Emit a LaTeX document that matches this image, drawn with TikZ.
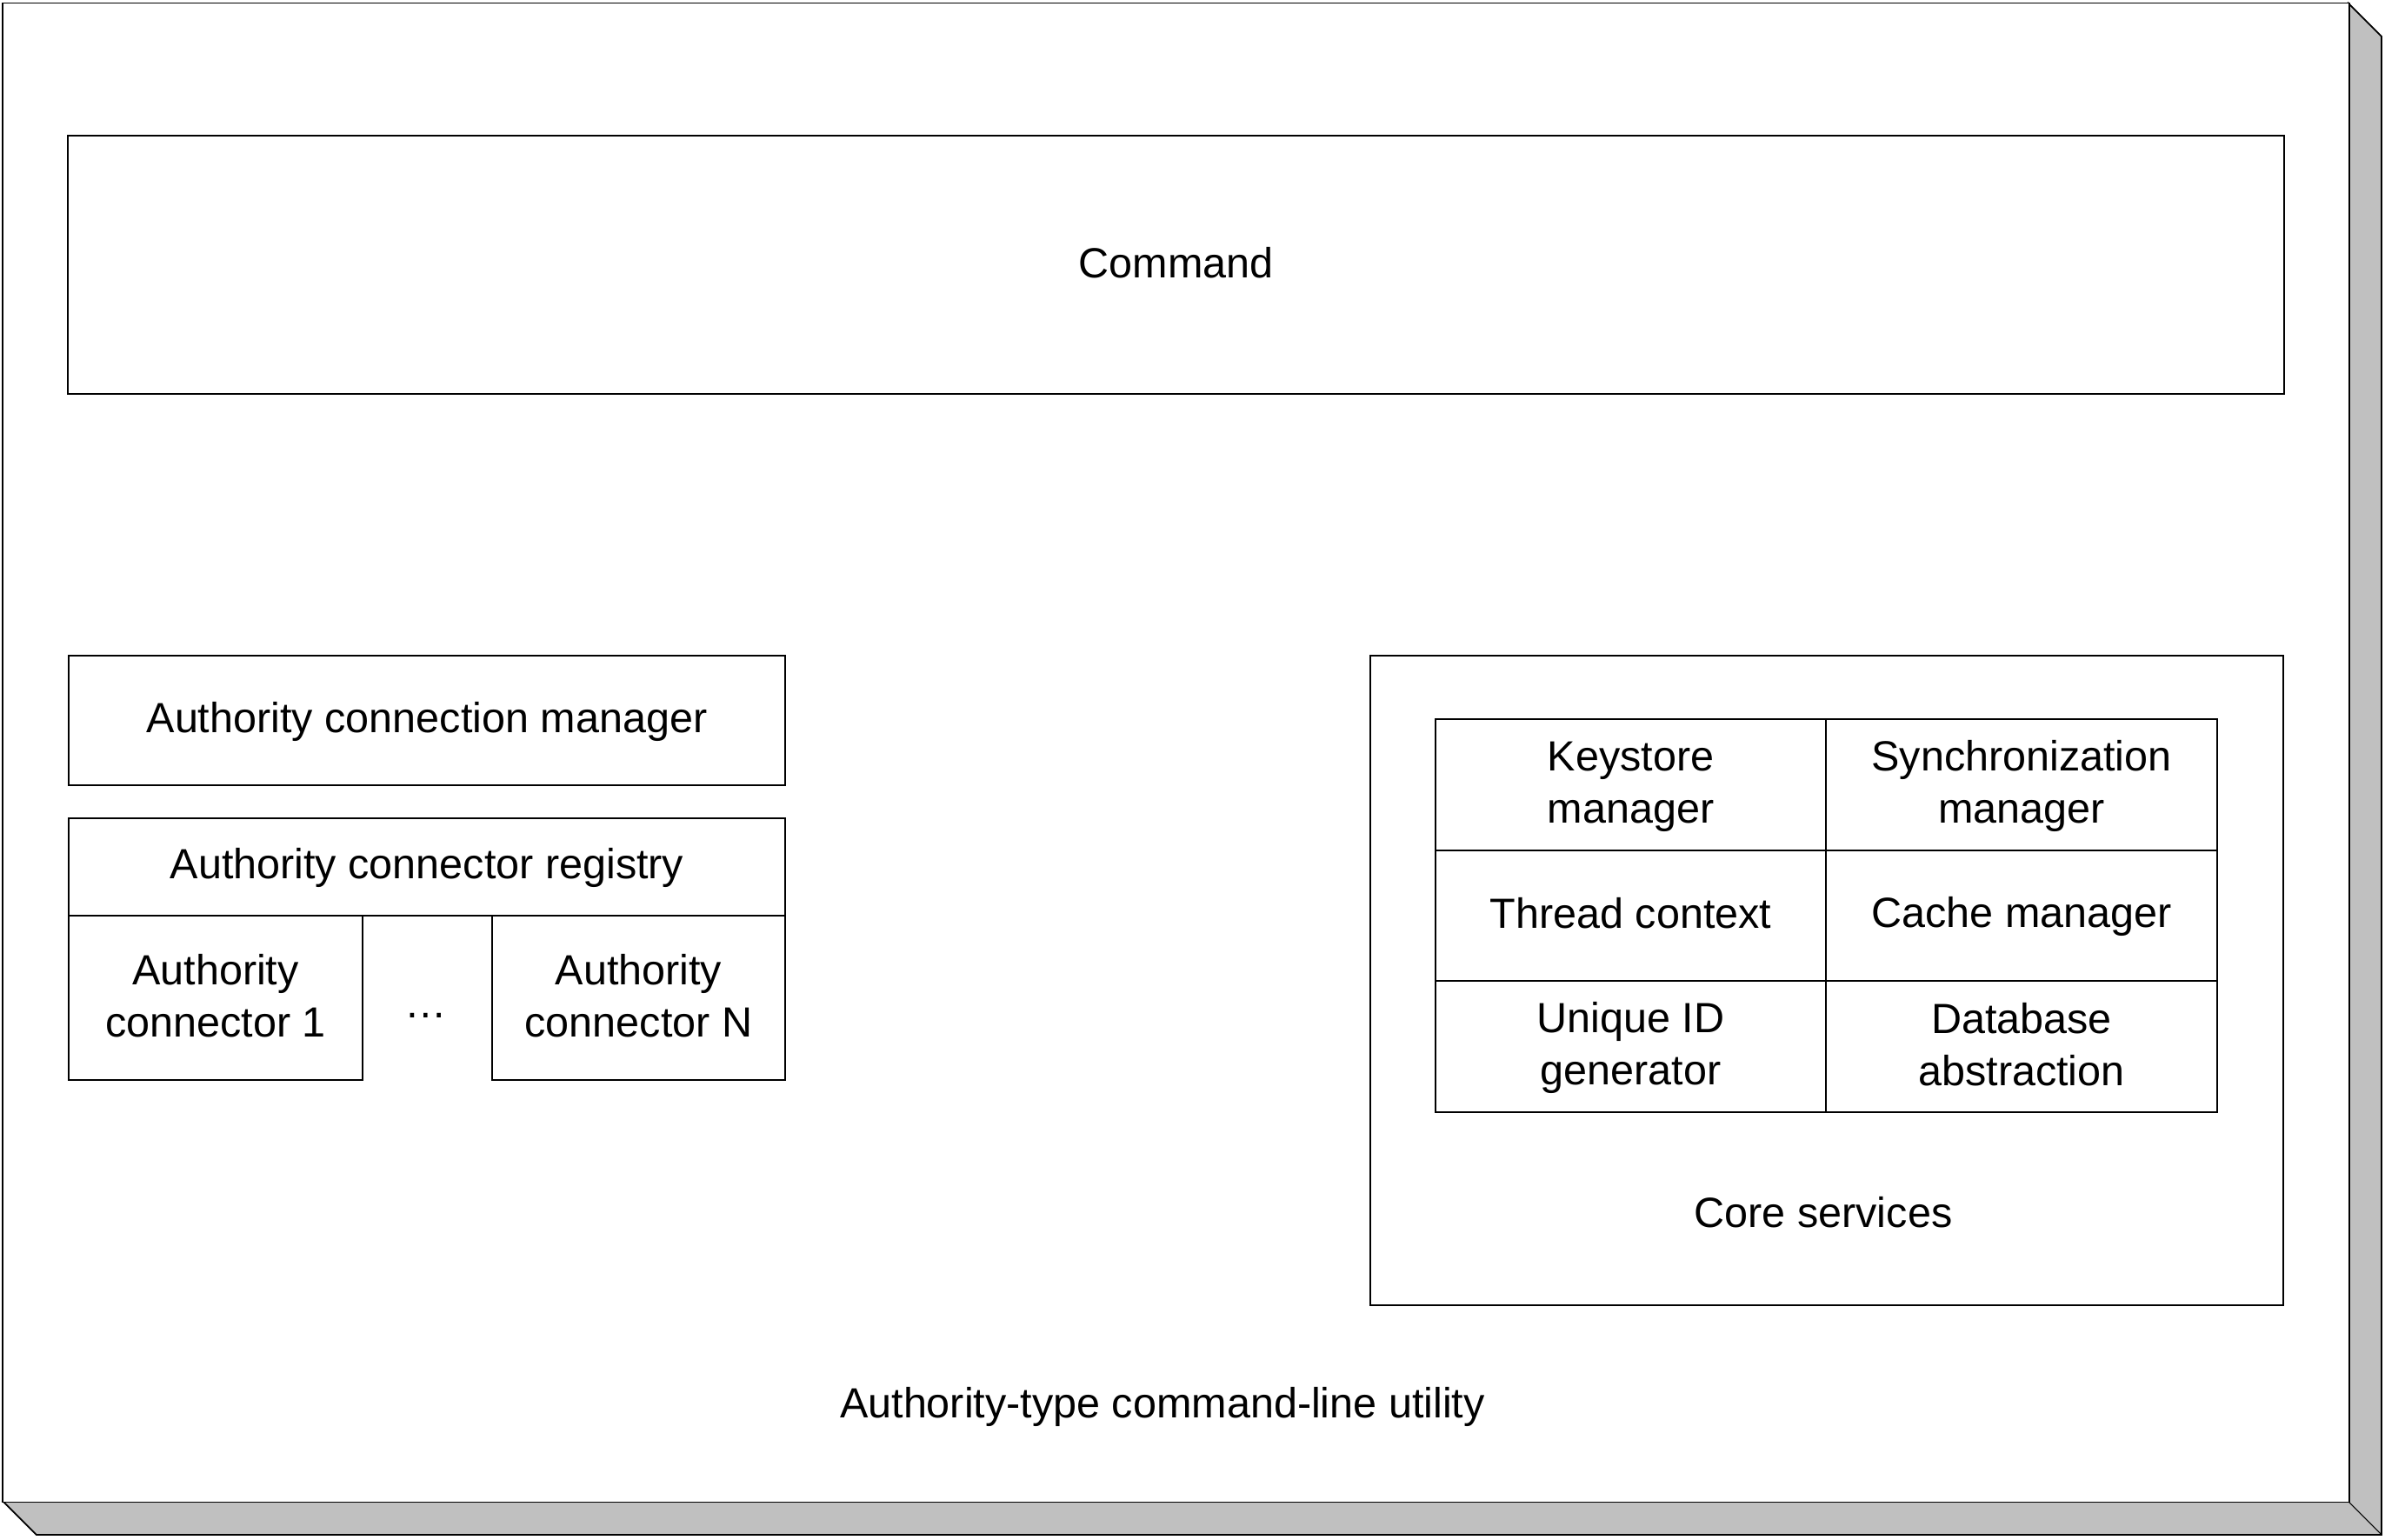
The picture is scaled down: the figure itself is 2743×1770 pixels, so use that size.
\documentclass[tikz,border=0pt]{standalone}
\usepackage{fontspec}
\setmainfont{Liberation Sans}
\usepackage{tikz}
\newcommand\rowstrut{\rule[-2.25pt]{0pt}{13pt}}

\begin{document}
\begin{tikzpicture}[x=0.01cm, y=-0.01cm,
  frame/.style={draw, line width=0.5pt, inner sep=0pt},
  box/.style={frame, align=center, font=\fontsize{13.8}{17}\selectfont},
  txt/.style={inner sep=0pt, align=center, text height=10pt, text depth=3pt, font=\fontsize{13.8}{17}\selectfont}]
\useasboundingbox (0,0) rectangle (2743,1770);
% shadow of the outer frame
\filldraw [fill={rgb,255:red,192;green,192;blue,192}, line width=0.5pt]
  (2701,4) -- (2739,42) -- (2739,1765) -- (42,1765) -- (4,1727) -- (2701,1727) -- cycle;
\draw [line width=0.3pt] (2701,1727) -- (2739,1765);
% outer frame
\node [frame, fill=white, minimum width=26.97cm, minimum height=17.23cm] (utility) at (1352.5,865.5) {};
\node [txt] (utilitylabel) at (1337,1618) {Authority-type command-line utility};
% command
\node [box, minimum width=25.47cm, minimum height=2.97cm] (command) at (1352.5,304.5) {\rowstrut Command};
% authority side
\node [box, minimum width=8.24cm, minimum height=1.49cm] (connmgr) at (491,828.5) {\rowstrut Authority connection manager};
\node [box, minimum width=8.24cm, minimum height=1.12cm] (registry) at (491,997) {\rowstrut Authority connector registry};
\node [box, minimum width=3.38cm, minimum height=1.89cm] (conn1) at (248,1147.5) {\rowstrut Authority\\\rowstrut connector 1};
\node [box, minimum width=3.37cm, minimum height=1.89cm] (connN) at (734.5,1147.5) {\rowstrut Authority\\\rowstrut connector N};
\node [inner sep=0pt, font=\fontsize{13.8}{17}\selectfont] (dots) at (490,1168) {\ldots};
% core services
\node [frame, minimum width=10.5cm, minimum height=7.47cm] (core) at (2101,1127.5) {};
\node [txt] (corelabel) at (2097,1399) {Core services};
\node [box, minimum width=4.49cm, minimum height=1.51cm] (keystore) at (1875.5,902.5) {\rowstrut Keystore\\\rowstrut manager};
\node [box, minimum width=4.50cm, minimum height=1.51cm] (sync) at (2325,902.5) {\rowstrut Synchronization\\\rowstrut manager};
\node [box, minimum width=4.49cm, minimum height=1.50cm] (thread) at (1875.5,1053) {\rowstrut Thread context};
\node [box, minimum width=4.50cm, minimum height=1.50cm] (cache) at (2325,1053) {\rowstrut Cache manager};
\node [box, minimum width=4.49cm, minimum height=1.51cm] (uniqueid) at (1875.5,1203.5) {\rowstrut Unique ID\\\rowstrut generator};
\node [box, minimum width=4.50cm, minimum height=1.51cm] (database) at (2325,1203.5) {\rowstrut Database\\\rowstrut abstraction};
\end{tikzpicture}
\end{document}
